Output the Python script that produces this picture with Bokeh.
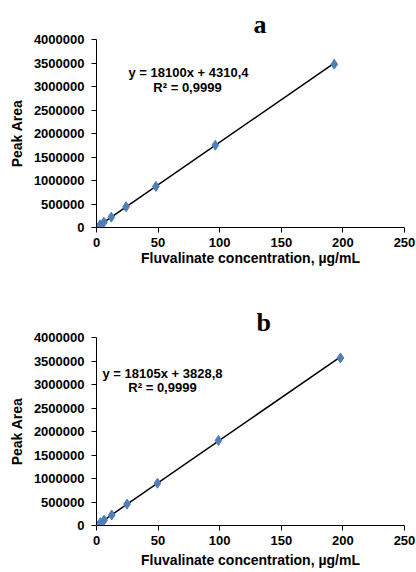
from bokeh.plotting import figure
from bokeh.layouts import column
from bokeh.models import Label, Range1d, BasicTickFormatter, FixedTicker
from bokeh.embed import file_html
from bokeh.resources import INLINE

# Data
conc_a = [0, 3.0, 6.0, 12.0, 24.0, 48.2, 96.4, 193.0]
area_a = [3000, 58000, 112000, 220000, 440000, 875000, 1750000, 3475000]
slope_a, icpt_a = 18100, 4310.4
eq_a = "y = 18100x + 4310,4"
r2_a = "R² = 0,9999"

conc_b = [0, 3.1, 6.2, 12.4, 24.8, 49.5, 99.0, 198.0]
area_b = [3000, 60000, 115000, 225000, 455000, 900000, 1810000, 3565000]
slope_b, icpt_b = 18105, 3828.8
eq_b = "y = 18105x + 3828,8"
r2_b = "R² = 0,9999"

x_ticks = [0, 50, 100, 150, 200, 250]
y_ticks = [0, 500000, 1000000, 1500000, 2000000, 2500000, 3000000, 3500000, 4000000]
x_title = "Fluvalinate concentration, µg/mL"
y_title = "Peak Area"

FONT = "Liberation Sans"
MARK = "#4f7fb8"


def lab(p, x, y, text, size):
    p.add_layout(Label(x=x, y=y, x_units="screen", y_units="screen", text=text,
                       text_font=FONT, text_font_style="bold", text_font_size=size,
                       text_align="center", text_baseline="middle", text_color="black"))


def make(conc, area, slope, icpt, eq, r2, letter, h, top, bottom, pos, title_off, xl_stand):
    p = figure(width=416, height=h, output_backend="svg", toolbar_location=None,
               x_range=Range1d(0, 250), y_range=Range1d(0, 4000000),
               min_border_left=96, min_border_right=12,
               min_border_top=top, min_border_bottom=bottom)
    p.outline_line_color = None
    p.xgrid.visible = False
    p.ygrid.visible = False
    p.title.text = letter
    p.title.align = "left"
    p.title.offset = title_off
    p.title.standoff = 2
    p.title.text_font = "Liberation Serif"
    p.title.text_font_style = "bold"
    p.title.text_font_size = "26px"
    p.title.text_color = "black"
    for ax in (p.xaxis[0], p.yaxis[0]):
        ax.axis_line_color = "black"
        ax.axis_line_width = 1
        ax.major_tick_line_color = "black"
        ax.major_tick_in = 0
        ax.major_tick_out = 5
        ax.minor_tick_line_color = None
        ax.major_label_text_font = FONT
        ax.major_label_text_font_style = "bold"
        ax.major_label_text_font_size = "13px"
        ax.major_label_text_color = "black"
        ax.axis_label_text_font = FONT
        ax.axis_label_text_font_style = "bold"
        ax.axis_label_text_font_size = "14px"
        ax.axis_label_text_color = "black"
    p.xaxis.ticker = FixedTicker(ticks=x_ticks)
    p.yaxis.ticker = FixedTicker(ticks=y_ticks)
    p.yaxis.formatter = BasicTickFormatter(use_scientific=False)
    p.xaxis.major_label_standoff = 5
    p.yaxis.major_label_standoff = 7
    p.xaxis.axis_label = x_title
    p.yaxis.axis_label = y_title
    p.xaxis.axis_label_standoff = xl_stand
    p.yaxis.axis_label_standoff = 6

    x0, x1 = min(conc), max(conc)
    p.line([x0, x1], [slope * x0 + icpt, slope * x1 + icpt], line_color="black", line_width=1.5)
    p.scatter(conc, area, marker="diamond", size=10, fill_color=MARK, line_color=MARK)

    lab(p, pos["eq"][0], pos["eq"][1], eq, "13px")
    lab(p, pos["r2"][0], pos["r2"][1], r2, "13px")
    return p


pos_a = dict(eq=(92, 155), r2=(91, 140))
pos_b = dict(eq=(66, 152), r2=(66, 138))

pa = make(conc_a, area_a, slope_a, icpt_a, eq_a, r2_a, "a", 290, 39, 63, pos_a, 157, 0)
pb = make(conc_b, area_b, slope_b, icpt_b, eq_b, r2_b, "b", 282, 47, 47, pos_b, 160, 4)

layout = column(pa, pb, spacing=0)
open("out.html", "w").write(file_html(layout, INLINE))
